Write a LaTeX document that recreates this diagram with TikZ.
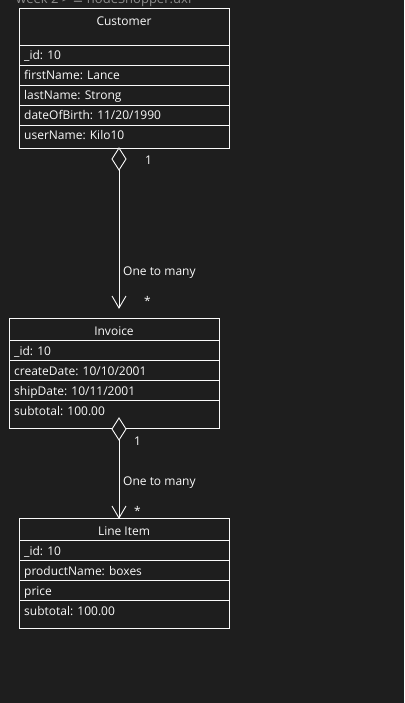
\documentclass[tikz,border=0pt]{standalone}
\usepackage{fontspec}
\setmainfont{Open Sans}
\newfontfamily\symfont{DejaVu Sans}
\usetikzlibrary{arrows.meta}
\definecolor{bg}{HTML}{1E1E1E}
\definecolor{fg}{HTML}{FAFAFA}
\definecolor{crumb}{HTML}{8C8C8C}
\begin{document}
\begin{tikzpicture}[x=1pt,y=-1pt,
  box/.style={draw=fg,line width=1pt},
  sep/.style={draw=fg,line width=0.8pt},
  txt/.style={text=fg,font=\fontsize{12}{14}\selectfont,inner sep=0pt},
  ttl/.style={txt,anchor=base},
  attr/.style={txt,anchor=base west},
  lbl/.style={txt,anchor=base west},
  conn/.style={draw=fg,line width=0.9pt},
  agg/.style={draw=fg,line width=0.9pt,fill=bg}]
\useasboundingbox[fill=bg] (0,0) rectangle (404,703);
\begin{scope}
\clip (0,0) rectangle (404,703);
\node[text=crumb,font=\fontsize{13}{15}\selectfont,inner sep=0pt,anchor=base west] (crumb) at (16,3.5) {week 2 > {\symfont ≡} nodeShopper.uxf};
\end{scope}
% Customer
\node[box,minimum width=210pt,minimum height=140pt,inner sep=0pt,anchor=north west] (cust) at (19,8) {};
\draw[sep] (19,45) -- (229,45);
\draw[sep] (19,65) -- (229,65);
\draw[sep] (19,85) -- (229,85);
\draw[sep] (19,105) -- (229,105);
\draw[sep] (19,125) -- (229,125);
\node[ttl] (custT) at (124,26) {Customer};
\node[attr] (c1) at (24,60) {\_id: 10};
\node[attr] (c2) at (24,80) {firstName: Lance};
\node[attr] (c3) at (24,100) {lastName: Strong};
\node[attr] (c4) at (24,120) {dateOfBirth: 11/20/1990};
\node[attr] (c5) at (24,140) {userName: Kilo10};
% Invoice
\node[box,minimum width=210pt,minimum height=110pt,inner sep=0pt,anchor=north west] (inv) at (9,318) {};
\draw[sep] (9,340) -- (219,340);
\draw[sep] (9,360) -- (219,360);
\draw[sep] (9,380) -- (219,380);
\draw[sep] (9,400) -- (219,400);
\node[ttl] (invT) at (114,335.7) {Invoice};
\node[attr] (i1) at (14,355) {\_id: 10};
\node[attr] (i2) at (14,375) {createDate: 10/10/2001};
\node[attr] (i3) at (14,395) {shipDate: 10/11/2001};
\node[attr] (i4) at (14,415) {subtotal: 100.00};
% Line Item
\node[box,minimum width=210pt,minimum height=110pt,inner sep=0pt,anchor=north west] (li) at (19,518) {};
\draw[sep] (19,540) -- (229,540);
\draw[sep] (19,560) -- (229,560);
\draw[sep] (19,580) -- (229,580);
\draw[sep] (19,600) -- (229,600);
\node[ttl] (liT) at (124,535.7) {Line Item};
\node[attr] (l1) at (24,555) {\_id: 10};
\node[attr] (l2) at (24,575) {productName: boxes};
\node[attr] (l3) at (24,595) {price};
\node[attr] (l4) at (24,615) {subtotal: 100.00};
% connector 1
\coordinate (d1t) at (119,148);
\coordinate (d1b) at (119,170);
\coordinate (a1) at (119,308);
\draw[conn] (d1b) -- (a1);
\draw[conn] (112,296) -- (a1) -- (126,296);
\draw[agg] (d1t) -- (126,159) -- (d1b) -- (112,159) -- cycle;
\node[lbl] (m1) at (145,165) {1};
\node[lbl] (r1) at (123,275) {One to many};
\node[lbl] (s1) at (144,305) {*};
% connector 2
\coordinate (d2t) at (119,418);
\coordinate (d2b) at (119,440);
\coordinate (a2) at (119,518);
\draw[conn] (d2b) -- (a2);
\draw[conn] (112,506) -- (a2) -- (126,506);
\draw[agg] (d2t) -- (126,429) -- (d2b) -- (112,429) -- cycle;
\node[lbl] (m2) at (134,445) {1};
\node[lbl] (r2) at (123,485) {One to many};
\node[lbl] (s2) at (134,515) {*};
\end{tikzpicture}
\end{document}
